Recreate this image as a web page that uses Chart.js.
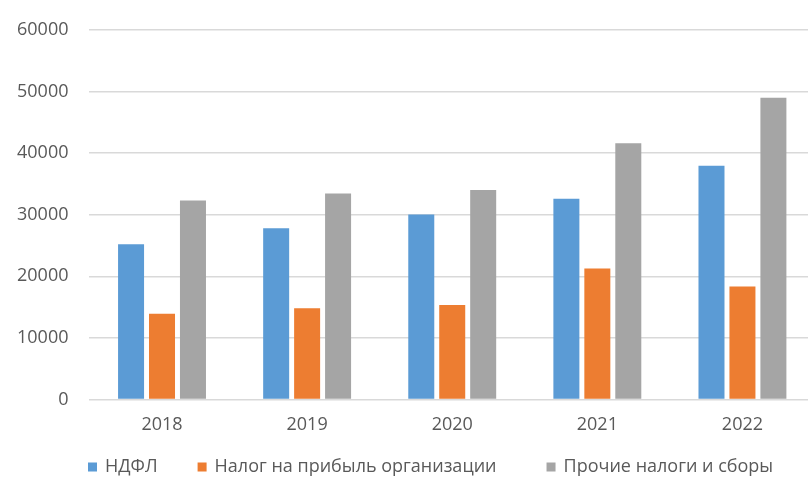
<!DOCTYPE html>
<html lang="ru">
<head>
<meta charset="utf-8">
<title>Налоговые поступления, 2018–2022</title>
<script src="https://cdn.jsdelivr.net/npm/chart.js@4/dist/chart.umd.min.js"></script>
<style>
  html, body { margin: 0; padding: 0; background: #ffffff; overflow: hidden; }
  #wrap { position: relative; width: 816px; height: 481px; }
</style>
</head>
<body>
<div id="wrap"><canvas id="chart"></canvas></div>
<script>
// Годы и значения по видам налогов
const years = ['2018', '2019', '2020', '2021', '2022'];
const ndfl = [25200, 27800, 30050, 32600, 37950];
const profitTax = [13900, 14800, 15350, 21250, 18350];
const otherTaxes = [32300, 33450, 34000, 41600, 49000];
const seriesNames = ['НДФЛ', 'Налог на прибыль организации', 'Прочие налоги и сборы'];
const yTicks = [0, 10000, 20000, 30000, 40000, 50000, 60000];

const colors = ['#5B9BD5', '#ED7D31', '#A5A5A5'];
const textColor = '#595959';
const fontFamily = '"Open Sans", "Noto Sans", sans-serif';

// Легенда внизу, рисуется вручную под подписями годов
const bottomLegend = {
  id: 'bottomLegend',
  afterDraw(chart) {
    const ctx = chart.ctx;
    const y = 467;
    const box = 9;
    const gaps = [40, 50];
    let x = 88;
    ctx.save();
    ctx.font = '18px ' + fontFamily;
    ctx.textBaseline = 'middle';
    ctx.textAlign = 'left';
    chart.data.datasets.forEach((ds, i) => {
      ctx.fillStyle = ds.backgroundColor;
      ctx.fillRect(x, y - box / 2, box, box);
      ctx.fillStyle = textColor;
      ctx.fillText(ds.label, x + box + 8, y);
      x += box + 8 + ctx.measureText(ds.label).width + (gaps[i] || 0);
    });
    ctx.restore();
  }
};

new Chart(document.getElementById('chart'), {
  type: 'bar',
  data: {
    labels: years,
    datasets: [
      { label: seriesNames[0], data: ndfl, backgroundColor: colors[0] },
      { label: seriesNames[1], data: profitTax, backgroundColor: colors[1] },
      { label: seriesNames[2], data: otherTaxes, backgroundColor: colors[2] }
    ]
  },
  options: {
    responsive: true,
    maintainAspectRatio: false,
    animation: false,
    datasets: {
      bar: { categoryPercentage: 0.64, barPercentage: 0.84 }
    },
    layout: { padding: { left: -4, right: 1, top: 21, bottom: 30 } },
    plugins: {
      legend: { display: false },
      tooltip: { enabled: false }
    },
    scales: {
      x: {
        grid: { display: false, drawTicks: false },
        border: { display: false },
        ticks: {
          color: textColor,
          font: { family: fontFamily, size: 18 },
          padding: 15,
          maxRotation: 0,
          minRotation: 0
        }
      },
      y: {
        min: 0,
        max: 60000,
        afterBuildTicks(scale) {
          scale.ticks = yTicks.map(v => ({ value: v }));
        },
        grid: { color: '#d9d9d9', lineWidth: 1.5, drawTicks: false },
        border: { display: false },
        ticks: {
          color: textColor,
          font: { family: fontFamily, size: 18, lineHeight: 1 },
          padding: 21,
          callback: v => String(v)
        }
      }
    }
  },
  plugins: [bottomLegend]
});
</script>
</body>
</html>
